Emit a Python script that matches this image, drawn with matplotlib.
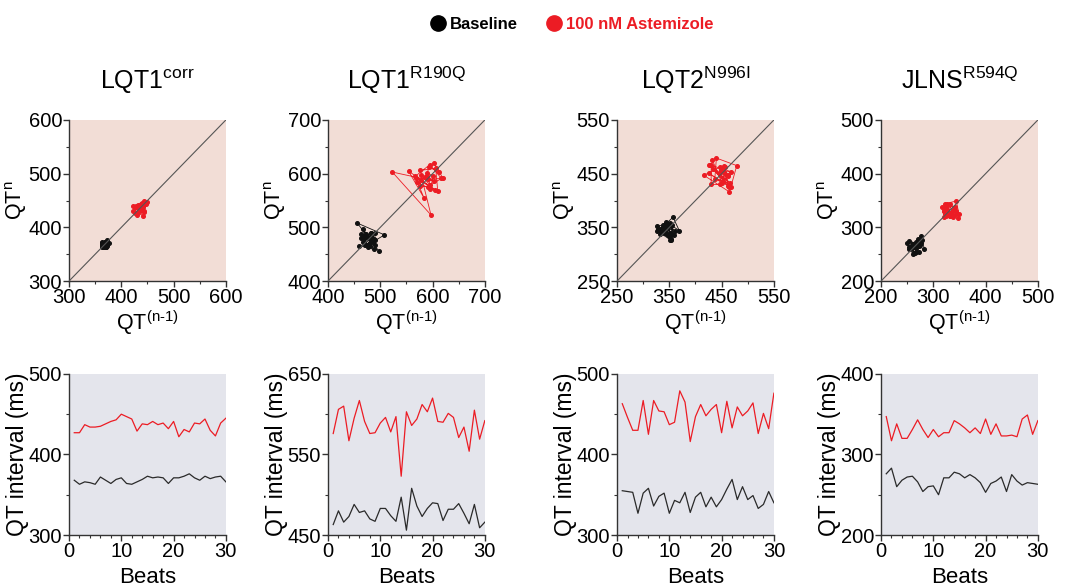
import numpy as np
import matplotlib
matplotlib.use('Agg')
import matplotlib.pyplot as plt
from matplotlib.lines import Line2D

plt.rcParams['font.family'] = ['Liberation Sans', 'DejaVu Sans']
plt.rcParams['mathtext.fontset'] = 'custom'
plt.rcParams['mathtext.rm'] = 'Liberation Sans'

# QT interval per beat (ms)
beats = np.arange(1, 31)
titles = ['LQT1$^{\\mathregular{corr}}$', 'LQT1$^{\\mathregular{R190Q}}$',
          'LQT2$^{\\mathregular{N996I}}$', 'JLNS$^{\\mathregular{R594Q}}$']

lqt1corr_base = [368, 363, 366, 365, 363, 372, 368, 364, 369, 371, 364, 363, 366, 369, 373,
                 371, 372, 371, 364, 371, 371, 373, 376, 371, 368, 373, 370, 372, 373, 366]
lqt1corr_ast = [427, 427, 437, 434, 434, 435, 438, 441, 443, 450, 447, 444, 429, 438, 437,
                441, 437, 439, 432, 441, 422, 431, 428, 439, 438, 444, 430, 423, 439, 445]

r190q_base = [463, 480, 466, 473, 488, 478, 480, 470, 467, 483, 483, 474, 467, 497, 456,
              508, 486, 473, 483, 490, 489, 468, 482, 482, 489, 477, 464, 488, 459, 466]
r190q_ast = [576, 606, 610, 567, 595, 617, 591, 576, 577, 589, 596, 578, 597, 523, 603,
             586, 594, 612, 603, 620, 591, 590, 601, 596, 571, 584, 554, 605, 569, 592]

n996i_base = [355, 354, 353, 327, 352, 358, 336, 348, 352, 327, 343, 340, 353, 328, 347,
              353, 335, 347, 335, 344, 357, 369, 344, 360, 344, 349, 333, 338, 354, 340]
n996i_ast = [463, 446, 430, 430, 467, 425, 467, 454, 453, 437, 440, 479, 465, 416, 447,
             462, 448, 456, 462, 427, 466, 433, 459, 448, 454, 464, 426, 451, 432, 476]

r594q_base = [276, 283, 260, 268, 272, 273, 266, 254, 260, 261, 250, 271, 271, 278, 276,
              271, 275, 271, 265, 253, 264, 267, 272, 254, 275, 267, 262, 265, 264, 263]
r594q_ast = [347, 317, 338, 320, 320, 331, 343, 331, 321, 331, 322, 327, 327, 342, 338,
             333, 327, 333, 326, 344, 325, 338, 323, 323, 324, 322, 344, 349, 325, 342]

baseline = [lqt1corr_base, r190q_base, n996i_base, r594q_base]
astemizole = [lqt1corr_ast, r190q_ast, n996i_ast, r594q_ast]

poincare_lims = [(300, 600), (400, 700), (250, 550), (200, 500)]
trace_lims = [(300, 500), (450, 650), (300, 500), (200, 400)]

RED = '#ec1c24'
BLACK = '#111111'
TOP_BG = '#f2ddd6'
BOT_BG = '#e4e5ec'
AXC = '#333333'

fig = plt.figure(figsize=(10.67, 5.88), dpi=100)
lefts = [0.0647, 0.3074, 0.5783, 0.8257]
w = 0.147


def style(ax, bg):
    ax.set_facecolor(bg)
    for s in ['top', 'right']:
        ax.spines[s].set_visible(False)
    for s in ['left', 'bottom']:
        ax.spines[s].set_color(AXC)
        ax.spines[s].set_linewidth(1.0)
    ax.tick_params(which='major', length=4, width=1, color=AXC, labelsize=14.5, pad=1)
    ax.tick_params(which='minor', length=2.5, width=0.8, color=AXC)


for i in range(4):
    base = np.array(baseline[i])
    ast = np.array(astemizole[i])
    lo, hi = poincare_lims[i]

    # Poincare plot: QT(n) against QT(n-1)
    ax = fig.add_axes([lefts[i], 0.522, w, 0.274])
    style(ax, TOP_BG)
    ax.plot(base[:-1], base[1:], '-o', color=BLACK, lw=0.6, ms=2.6, zorder=2)
    ax.plot(ast[:-1], ast[1:], '-o', color=RED, lw=0.6, ms=2.6, zorder=2)
    ax.plot([lo, hi], [lo, hi], color='#555555', lw=0.8, zorder=3)
    ax.set_xlim(lo, hi)
    ax.set_ylim(lo, hi)
    ax.set_xticks(np.arange(lo, hi + 1, 100))
    ax.set_yticks(np.arange(lo, hi + 1, 100))
    ax.set_xticks(np.arange(lo, hi + 1, 50), minor=True)
    ax.set_yticks(np.arange(lo, hi + 1, 50), minor=True)
    ax.set_xlabel('QT$^{\\text{(n-1)}}$', fontsize=15.5, labelpad=1)
    ax.set_ylabel('QT$^{\\mathregular{n}}$', fontsize=15.5, labelpad=0)
    ax.set_title(titles[i], fontsize=18, pad=22)

    # QT interval trace
    lo2, hi2 = trace_lims[i]
    ax2 = fig.add_axes([lefts[i], 0.0901, w, 0.274])
    style(ax2, BOT_BG)
    ax2.plot(beats, ast, color=RED, lw=0.9)
    ax2.plot(beats, base, color='#2a2a2a', lw=0.9)
    ax2.set_xlim(0, 30)
    ax2.set_ylim(lo2, hi2)
    ax2.set_xticks(np.arange(0, 31, 10))
    ax2.set_xticks(np.arange(0, 31, 2), minor=True)
    ax2.set_yticks(np.arange(lo2, hi2 + 1, 100))
    ax2.set_yticks(np.arange(lo2, hi2 + 1, 50), minor=True)
    ax2.set_xlabel('Beats', fontsize=16, labelpad=4)
    ax2.set_ylabel('QT interval (ms)', fontsize=16.5, labelpad=0)

handles = [Line2D([], [], ls='none', marker='o', ms=11, color='black'),
           Line2D([], [], ls='none', marker='o', ms=11, color=RED)]
fig.legend(handles, ['Baseline', '100 nM Astemizole'], loc='center',
           bbox_to_anchor=(0.535, 0.959), ncol=2, frameon=False,
           prop={'weight': 'bold', 'size': 12}, labelcolor=['black', RED],
           handletextpad=0.1, columnspacing=1.6, handlelength=1.2)

fig.savefig('out.png', dpi=100)
